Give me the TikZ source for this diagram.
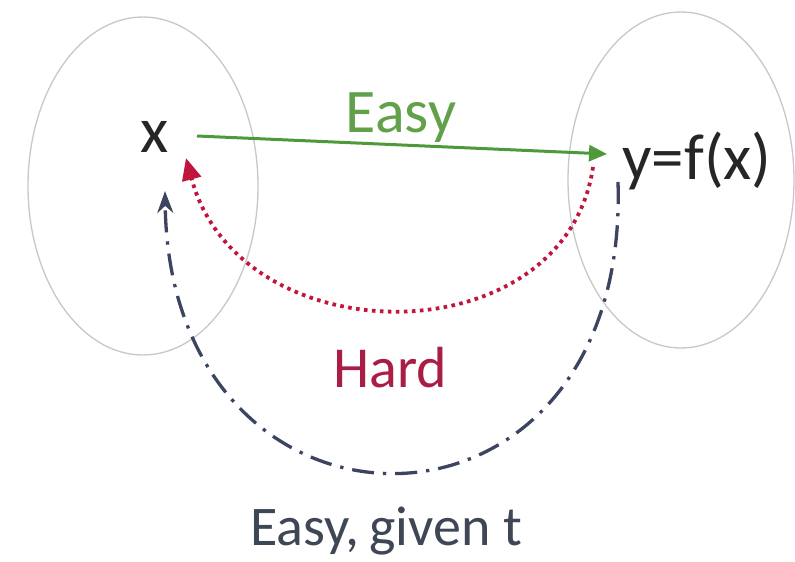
\documentclass[tikz,border=0pt]{standalone}
\usepackage{fontspec}
\setmainfont{Carlito}
\usetikzlibrary{arrows.meta,calc}
\definecolor{ellgray}{HTML}{C8C8C8}
\definecolor{easygreen}{HTML}{4E9A3A}
\definecolor{easytext}{HTML}{62A14A}
\definecolor{hardred}{HTML}{C0163E}
\definecolor{hardtext}{HTML}{A81E45}
\definecolor{trapblue}{HTML}{3C4462}
\definecolor{traptext}{HTML}{3F4756}
\tikzset{
  setell/.style={draw=ellgray, line width=1.3pt},
  bigtext/.style={inner sep=0pt, font=\fontsize{65}{72}\selectfont, text=black!85},
  easyarrow/.style={draw=easygreen, line width=3pt, -{Triangle[length=18pt,width=16pt]}},
  hardarrow/.style={draw=hardred, line width=3.8pt, dash pattern=on 3.6pt off 4.4pt, -{Triangle[length=22pt,width=19pt]}},
  trapdoor/.style={draw=trapblue, line width=3.3pt, dash pattern=on 22pt off 9pt on 3.3pt off 9pt, -{Stealth[length=22pt,width=16pt]}},
}
\begin{document}
\begin{tikzpicture}[x=1pt,y=-1pt]
\useasboundingbox (0,0) rectangle (795,562);
\fill[white] (0,0) rectangle (795,562);
% sets
\draw[setell] (143,186) ellipse [x radius=115, y radius=169];
\draw[setell] (681,180) ellipse [x radius=113, y radius=168];
% elements
\node[bigtext] (x) at (155,137) {x};
\node[bigtext] (y) at (697,161) {y=f(x)};
% labels
\node[inner sep=0pt, anchor=base, font=\fontsize{62}{70}\selectfont, text=easytext] (leasy) at (401,132) {Easy};
\node[inner sep=0pt, anchor=base, font=\fontsize{58}{66}\selectfont, text=hardtext] (lhard) at (390,387) {Hard};
\node[inner sep=0pt, anchor=base, font=\fontsize{56}{64}\selectfont, text=traptext] (lgiven) at (386,545) {Easy,\hspace{-3pt} given t};
% connectors
\draw[easyarrow] ($(x.center)+(42,-1)$) -- ($(y.center)+(-90,-7)$);
\draw[hardarrow] ($(y.center)+(-104,6)$) .. controls (565,358) and (240,358) .. ($(x.center)+(31,21)$);
\draw[trapdoor] ($(y.center)+(-79,21)$) .. controls (630,567) and (170,567) .. ($(x.center)+(10,54)$);
\end{tikzpicture}
\end{document}
